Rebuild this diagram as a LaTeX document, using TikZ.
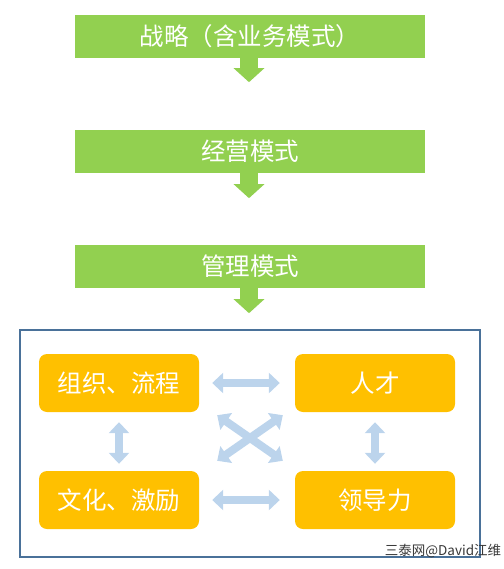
\documentclass[tikz,border=0pt]{standalone}
\usepackage{fontspec}
\setmainfont{Noto Sans CJK SC}
\usepackage{tikz}
\usetikzlibrary{positioning,calc,arrows.meta}
\usepackage{xcolor}
\definecolor{barGreen}{HTML}{92D050}
\definecolor{boxGold}{HTML}{FFC000}
\definecolor{arrBlue}{HTML}{BCD4EC}
\definecolor{frameBlue}{HTML}{4A7199}

\begin{document}
\begin{tikzpicture}[x=1pt,y=-1pt,
    bar/.style={rectangle,fill=barGreen,minimum width=350pt,minimum height=43pt,inner sep=0pt,text=white,font=\fontsize{24.5}{26}\selectfont},
    gold/.style={rectangle,rounded corners=8pt,fill=boxGold,minimum width=160pt,minimum height=58pt,inner sep=0pt,text=white,font=\fontsize{24.5}{26}\selectfont},
    down/.style={barGreen,line width=18pt,-{Triangle[width=30pt,length=14pt]}},
    dbl/.style={arrBlue,line width=8pt,{Triangle[width=20pt,length=11pt]}-{Triangle[width=20pt,length=11pt]}}]

\useasboundingbox (0,0) rectangle (503,569);

% top chain
\node[bar] (zhanlue) at (250,36.5) {战略（含业务模式）};
\node[bar] (jingying) at (250,151.5) {经营模式};
\node[bar] (guanli) at (250,266.5) {管理模式};

\draw[down] (zhanlue.south -| 249,0) -- ++(0,24);
\draw[down] (jingying.south -| 249,0) -- ++(0,25);
\draw[down] (guanli.south -| 249,0) -- ++(0,25);

% frame
\draw[frameBlue,line width=2pt] (20,330) rectangle (480,557);

% four boxes
\node[gold] (zuzhi) at (119,383) {组织、流程};
\node[gold] (rencai) at (375,383) {人才};
\node[gold] (wenhua) at (119,500) {文化、激励};
\node[gold] (lingdao) at (375,500) {领导力};

\draw[dbl,shorten <=13pt,shorten >=15pt] (zuzhi.east) -- (rencai.west);
\draw[dbl,shorten <=13pt,shorten >=15pt] (wenhua.east) -- (lingdao.west);
\draw[dbl,shorten <=10pt,shorten >=7pt] (zuzhi.south) -- (wenhua.north);
\draw[dbl,shorten <=10pt,shorten >=7pt] (rencai.south) -- (lingdao.north);
\draw[dbl] ($(zuzhi.south east)+(18,3)$) -- ($(lingdao.north west)+(-12,-10)$);
\draw[dbl] ($(rencai.south west)+(-12,3)$) -- ($(wenhua.north east)+(18,-10)$);

% watermark
\node[font=\fontsize{13.5}{14}\selectfont,text=black!78] (mark) at (443,551) {三泰网@David江维};

\end{tikzpicture}
\end{document}
